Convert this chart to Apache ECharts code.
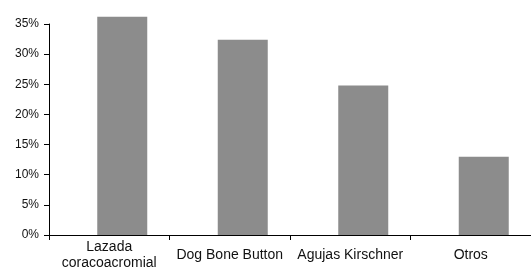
<!DOCTYPE html>
<html>
<head>
<meta charset="utf-8">
<script src="https://cdn.jsdelivr.net/npm/echarts@6/dist/echarts.min.js"></script>
<style>html,body{margin:0;padding:0;background:#fff;}#c{width:531px;height:271px;}</style>
</head>
<body>
<div id="c"></div>
<script>
var categories = ['Lazada\ncoracoacromial', 'Dog Bone Button', 'Agujas Kirschner', 'Otros'];
var values = [36.2, 32.4, 24.8, 13.0];
var spacer = [null, null, null, null];
var yMin = 0, yMax = 35, yStep = 5;

var chart = echarts.init(document.getElementById('c'), null, {renderer: 'canvas'});
chart.setOption({
  animation: false,
  backgroundColor: '#fff',
  grid: {left: 49, right: -2, top: 24, bottom: 35, containLabel: false},
  xAxis: {
    type: 'category',
    data: categories,
    axisLine: {lineStyle: {color: '#000', width: 1}},
    axisTick: {show: true, length: 5, lineStyle: {color: '#000'}},
    axisLabel: {
      color: '#111', fontFamily: 'Liberation Sans, Arial, sans-serif', fontSize: 14,
      lineHeight: 16, verticalAlign: 'middle', margin: 20, interval: 0
    },
    splitLine: {show: false}
  },
  yAxis: {
    type: 'value', min: yMin, max: yMax, interval: yStep,
    axisLine: {show: true, lineStyle: {color: '#000', width: 1}},
    axisTick: {show: true, length: 5, lineStyle: {color: '#000'}},
    axisLabel: {
      color: '#111', fontFamily: 'Liberation Sans, Arial, sans-serif', fontSize: 12,
      margin: 10, padding: [0, 0, 12, 0],
      formatter: function (v) { return v + '%'; }
    },
    splitLine: {show: false}
  },
  series: [
    {type: 'bar', data: spacer, barWidth: 50, barGap: '-48%', silent: true, itemStyle: {color: 'rgba(0,0,0,0)'}},
    {type: 'bar', data: values, barWidth: 50, barGap: '-48%', clip: false, itemStyle: {color: '#8c8c8c'}}
  ]
});
</script>
</body>
</html>
